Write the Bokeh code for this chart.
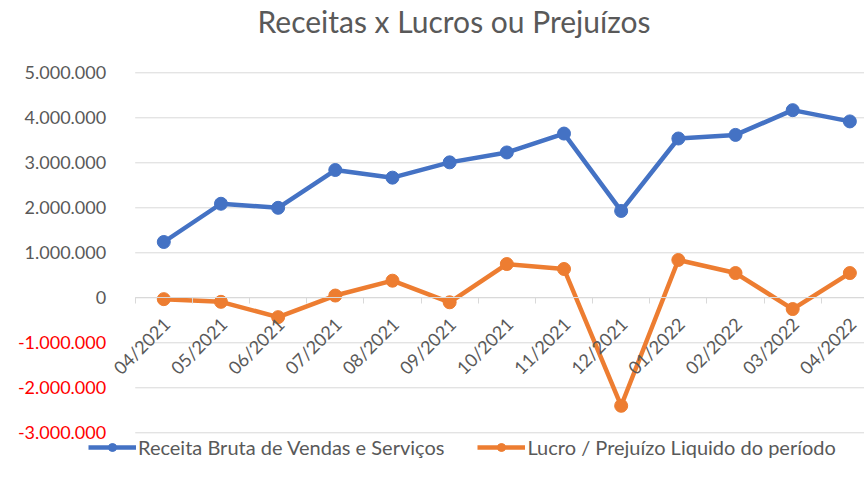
from math import pi
from bokeh.plotting import figure
from bokeh.models import (Range1d, FixedTicker, LinearAxis, Legend, LegendItem,
                          CustomJSTickFormatter, Label)
from bokeh.embed import file_html
from bokeh.resources import INLINE

periods = ["04/2021", "05/2021", "06/2021", "07/2021", "08/2021", "09/2021",
           "10/2021", "11/2021", "12/2021", "01/2022", "02/2022", "03/2022", "04/2022"]
receita = [1240000, 2090000, 2000000, 2840000, 2670000, 3010000, 3230000,
           3650000, 1930000, 3540000, 3620000, 4170000, 3920000]
lucro = [-30000, -90000, -430000, 50000, 380000, -100000, 750000,
         640000, -2400000, 840000, 550000, -250000, 550000]
pos_ticks = [0, 1000000, 2000000, 3000000, 4000000, 5000000]
neg_ticks = [-3000000, -2000000, -1000000]
title_text = "Receitas x Lucros ou Prejuízos"

BLUE = "#4472C4"
ORANGE = "#ED7D31"
GRID = "#D9D9D9"
TXT = "#595959"
FONT = "Lato"

xs = list(range(len(periods)))
X_START, X_END = -2.856, 12.256
Y_START, Y_END = -4216000, 6607000

p = figure(width=864, height=487, output_backend="svg", toolbar_location=None,
           x_range=Range1d(X_START, X_END), y_range=Range1d(Y_START, Y_END),
           x_axis_location=None, y_axis_location=None,
           min_border_left=0, min_border_right=0, min_border_top=0,
           min_border_bottom=0)
p.outline_line_color = None
p.xgrid.visible = False
p.ygrid.visible = False

# chart title
p.add_layout(Label(text=title_text, x=257, y=467, x_units="screen", y_units="screen",
                   text_font=FONT, text_font_size="30px", text_color=TXT,
                   text_align="left", text_baseline="alphabetic"))

# horizontal gridlines over the plot area (from the first category boundary)
all_ticks = neg_ticks + pos_ticks
p.segment(x0=[-0.5] * len(all_ticks), y0=all_ticks,
          x1=[X_END] * len(all_ticks), y1=all_ticks,
          line_color=GRID, line_width=1)

fmt = CustomJSTickFormatter(code="""
    const s = Math.abs(Math.round(tick)).toString().replace(/\\B(?=(\\d{3})+(?!\\d))/g, '.');
    return (tick < 0 ? '-' : '') + s;
""")

def yaxis(ticks, color):
    ax = LinearAxis(ticker=FixedTicker(ticks=ticks), formatter=fmt,
                    fixed_location=-0.5)
    ax.axis_line_color = None
    ax.major_tick_line_color = None
    ax.minor_tick_line_color = None
    ax.major_label_standoff = 23
    ax.major_label_text_font = FONT
    ax.major_label_text_font_size = "18px"
    ax.major_label_text_color = color
    return ax

p.add_layout(yaxis(pos_ticks, TXT), "left")
p.add_layout(yaxis(neg_ticks, "#FF0000"), "left")

# category boundary ticks on the zero line
bounds = [i - 0.5 for i in range(len(periods) + 1)]
tick_ax = LinearAxis(ticker=FixedTicker(ticks=bounds), fixed_location=0)
tick_ax.axis_line_color = GRID
tick_ax.major_tick_line_color = GRID
tick_ax.major_tick_in = 0
tick_ax.major_tick_out = 6
tick_ax.minor_tick_line_color = None
tick_ax.major_label_text_alpha = 0
tick_ax.major_label_text_font_size = "1px"
tick_ax.bounds = (-0.5, X_END)
p.add_layout(tick_ax, "below")

lab_pos = [x + 0.05 for x in xs]
lab_ax = LinearAxis(ticker=FixedTicker(ticks=lab_pos), fixed_location=0,
                    major_label_overrides={lp: s for lp, s in zip(lab_pos, periods)})
lab_ax.axis_line_color = None
lab_ax.major_tick_line_color = None
lab_ax.minor_tick_line_color = None
lab_ax.major_label_orientation = pi / 4
lab_ax.major_label_standoff = 17
lab_ax.major_label_text_font = FONT
lab_ax.major_label_text_font_size = "18px"
lab_ax.major_label_text_color = TXT
p.add_layout(lab_ax, "below")

l1 = p.line(xs, receita, line_color=BLUE, line_width=4.5)
s1 = p.scatter(xs, receita, size=13, fill_color=BLUE, line_color=BLUE)
l2 = p.line(xs, lucro, line_color=ORANGE, line_width=4.5)
s2 = p.scatter(xs, lucro, size=13, fill_color=ORANGE, line_color=ORANGE)

legend = Legend(items=[
    LegendItem(label="Receita Bruta de Vendas e Serviços", renderers=[l1, s1]),
    LegendItem(label="Lucro / Prejuízo Liquido do período", renderers=[l2, s2]),
], orientation="horizontal", location=(88, 28))
legend.glyph_width = 48
legend.glyph_height = 20
legend.label_standoff = 2
legend.spacing = 33
legend.padding = 0
legend.margin = 0
legend.border_line_color = None
legend.background_fill_alpha = 0
legend.label_text_font = FONT
legend.label_text_font_size = "20px"
legend.label_text_color = TXT
p.add_layout(legend, "center")

open("out.html", "w").write(file_html(p, INLINE))
